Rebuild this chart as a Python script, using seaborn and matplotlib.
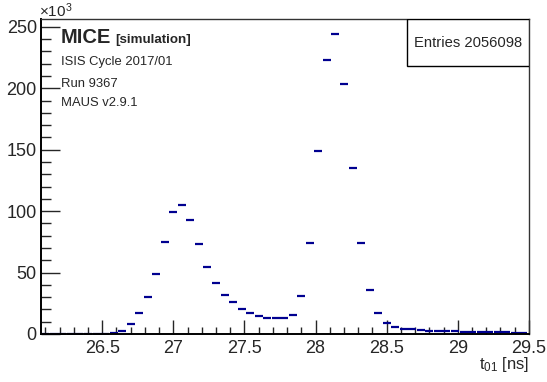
import numpy as np
import pandas as pd
import matplotlib
matplotlib.use('Agg')
import matplotlib.pyplot as plt
from matplotlib.ticker import MultipleLocator
import seaborn as sns

# bin centres of t01 histogram [ns] and counts [x10^3]
t01_centres = [26.10, 26.16, 26.22, 26.28, 26.34, 26.40, 26.46, 26.52, 26.58, 26.64,
               26.70, 26.76, 26.82, 26.88, 26.94, 27.00, 27.06, 27.12, 27.18, 27.24,
               27.30, 27.36, 27.42, 27.48, 27.54, 27.60, 27.66, 27.72, 27.78, 27.84,
               27.90, 27.96, 28.02, 28.08, 28.14, 28.20, 28.26, 28.32, 28.38, 28.44,
               28.50, 28.56, 28.62, 28.68, 28.74, 28.80, 28.86, 28.92, 28.98, 29.04,
               29.10, 29.16, 29.22, 29.28, 29.34, 29.40, 29.46]
counts_k = [0.0, 0.0, 0.0, 0.0, 0.0, 0.0, 0.05, 0.2, 0.8, 2.6,
            8.0, 16.8, 30.0, 48.7, 75.0, 99.0, 104.6, 92.4, 73.1, 54.9,
            41.6, 32.0, 25.8, 20.1, 16.8, 14.7, 13.3, 12.8, 13.3, 15.8,
            31.0, 73.9, 148.6, 222.8, 244.3, 203.5, 135.3, 74.2, 36.1, 17.4,
            9.2, 6.0, 4.4, 3.7, 3.2, 2.8, 2.5, 2.3, 2.1, 1.9,
            1.8, 1.6, 1.5, 1.4, 1.3, 1.2, 1.1]

x_ticks = [26.5, 27, 27.5, 28, 28.5, 29, 29.5]
x_ticklabels = ['26.5', '27', '27.5', '28', '28.5', '29', '29.5']
y_ticks = [0, 50, 100, 150, 200, 250]
y_ticklabels = ['0', '50', '100', '150', '200', '250']

info_lines = ['ISIS Cycle 2017/01', 'Run 9367', 'MAUS v2.9.1']
entries_text = 'Entries 2056098'

sns.set_style('ticks')
plt.rcParams['font.family'] = ['Liberation Sans', 'DejaVu Sans']
plt.rcParams['mathtext.fontset'] = 'custom'
plt.rcParams['mathtext.rm'] = 'Liberation Sans'
plt.rcParams['mathtext.it'] = 'Liberation Sans'

df = pd.DataFrame({'t01': t01_centres, 'n': counts_k})

fig = plt.figure(figsize=(5.47, 3.82), dpi=100)
ax = fig.add_axes([0.075, 0.1257, 0.892, 0.8246])

sns.scatterplot(data=df, x='t01', y='n', marker='_', s=36, color='#000090',
                linewidth=1.6, ax=ax, legend=False, clip_on=True)

ax.set_xlim(26.07, 29.5)
ax.set_ylim(0, 256.4)
ax.xaxis.set_minor_locator(MultipleLocator(0.1))
ax.yaxis.set_minor_locator(MultipleLocator(10))
ax.set_xticks(x_ticks)
ax.set_xticklabels(x_ticklabels)
ax.set_yticks(y_ticks)
ax.set_yticklabels(y_ticklabels)

ax.tick_params(axis='x', which='major', direction='in', length=10, width=1, labelsize=13, pad=4, top=False)
ax.tick_params(axis='x', which='minor', direction='in', length=5, width=1, top=False)
ax.tick_params(axis='y', which='major', direction='in', length=14, width=1, labelsize=13, pad=3, right=False)
ax.tick_params(axis='y', which='minor', direction='in', length=7, width=1, right=False)

for side in ['left', 'bottom']:
    ax.spines[side].set_linewidth(1.4)
    ax.spines[side].set_color('black')
for side in ['top', 'right']:
    ax.spines[side].set_visible(True)
    ax.spines[side].set_linewidth(1.0)
    ax.spines[side].set_color('#333333')

ax.set_xlabel('')
ax.set_ylabel('')

# axis title and multiplier
fig.text(0.967, 0.033, r'$\mathregular{t_{01}}$ [ns]', ha='right', va='baseline', fontsize=12)
fig.text(0.072, 0.955, r'$\mathregular{\times 10^{3}}$', ha='left', va='baseline', fontsize=11)

# MICE label block
ax.text(0.041, 0.924, 'MICE', transform=ax.transAxes, fontsize=14.5, fontweight='bold', va='baseline')
ax.text(0.152, 0.924, '[simulation]', transform=ax.transAxes, fontsize=9.6, fontweight='bold', va='baseline')
for txt, yy in zip(info_lines, [0.854, 0.784, 0.724]):
    ax.text(0.041, yy, txt, transform=ax.transAxes, fontsize=9.4, va='baseline')

# stats box
ax.add_patch(plt.Rectangle((0.75, 0.851), 0.25, 0.149, transform=ax.transAxes,
                           facecolor='white', edgecolor='black', linewidth=1, zorder=3))
ax.text(0.875, 0.924, entries_text, transform=ax.transAxes, fontsize=10.6, ha='center', va='center', zorder=4)

plt.savefig('out.png', dpi=100)
plt.close(fig)
